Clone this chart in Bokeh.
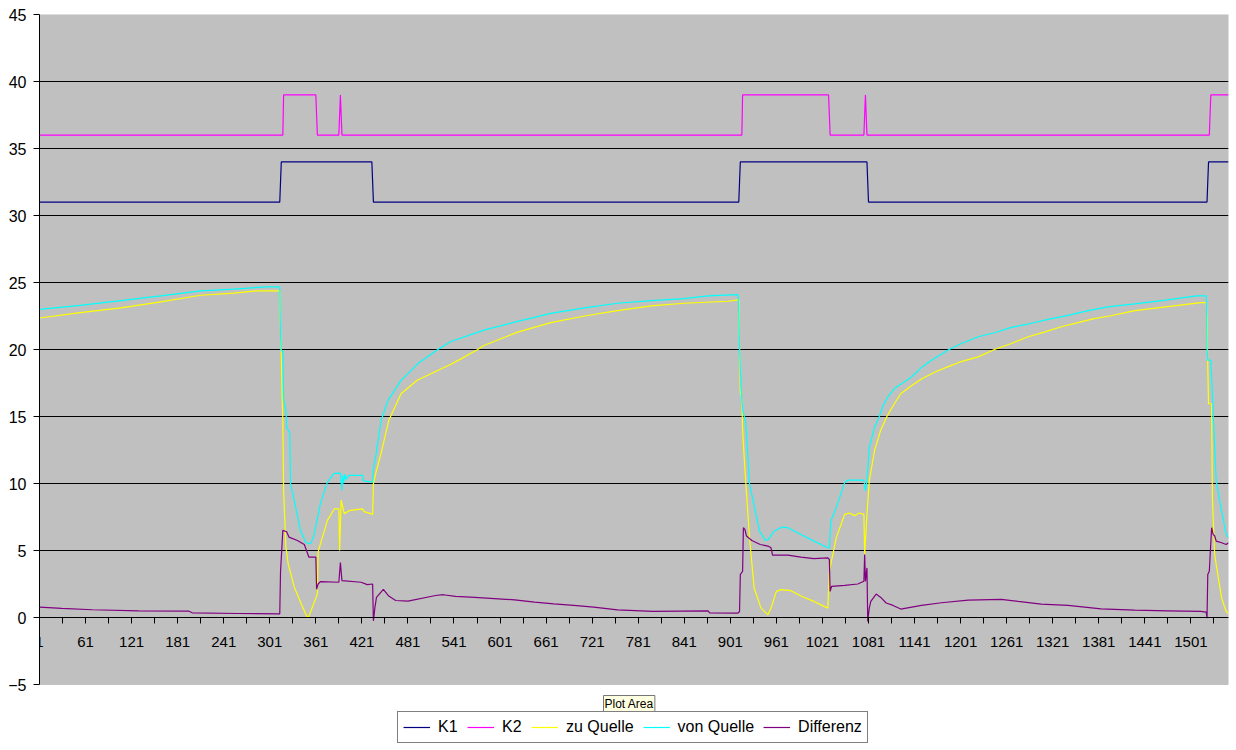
from bokeh.plotting import figure
from bokeh.models import Range1d, FixedTicker, Legend, LegendItem, Label, BoxAnnotation
from bokeh.embed import file_html
from bokeh.resources import INLINE

# ---- axis ticks ----
y_ticks = [-5, 0, 5, 10, 15, 20, 25, 30, 35, 40, 45]
grid_ticks = [0, 5, 10, 15, 20, 25, 30, 35, 40]
x_label_ticks = [1, 61, 121, 181, 241, 301, 361, 421, 481, 541, 601, 661, 721, 781, 841,
                 901, 961, 1021, 1081, 1141, 1201, 1261, 1321, 1381, 1441, 1501]
x_minor_ticks = [31, 91, 151, 211, 271, 331, 391, 451, 511, 571, 631, 691, 751, 811, 871,
                 931, 991, 1051, 1111, 1171, 1231, 1291, 1351, 1411, 1471, 1531]
n_categories = 1550
y_min, y_max = -5, 45

# ---- series (category index, value) ----
k1_x = [1, 314, 315, 316, 434, 435, 436, 912, 913, 914, 1079, 1080, 1081, 1522, 1523, 1524, 1550]
k1_y = [31, 31, 32.5, 34, 34, 32.5, 31, 31, 32.5, 34, 34, 32.5, 31, 31, 32.5, 34, 34]

k2_x = [1, 318, 319, 361, 362, 363, 391, 392, 393, 394, 395, 916, 917, 1029, 1030, 1031,
        1075, 1076, 1077, 1078, 1079, 1525, 1526, 1527, 1550]
k2_y = [36, 36, 39, 39, 37.5, 36, 36, 37.5, 39, 37.5, 36, 36, 39, 39, 37.5, 36,
        36, 37.5, 39, 37.5, 36, 36, 37.5, 39, 39]

zu_x = [1, 54, 107, 159, 211, 254, 285, 314, 315, 316, 317, 318, 319, 322, 325, 333, 343, 350,
        352, 363, 364, 376, 385, 391, 392, 394, 398, 406, 422, 424, 435, 436, 439, 446, 456,
        472, 493, 515, 537, 550, 572, 580, 624, 667, 711, 754, 798, 841, 898, 911,
        912, 913, 914, 916, 917, 919, 921, 926, 932, 941, 950, 954, 961, 967, 980, 993, 1010,
        1028, 1030, 1039, 1050, 1056, 1063, 1069, 1075, 1076, 1079, 1082, 1089, 1097, 1105,
        1113, 1123, 1137, 1150, 1167, 1184, 1202, 1224, 1245, 1267, 1289, 1310, 1332, 1354,
        1375, 1395, 1428, 1471, 1514, 1521, 1522, 1523, 1524, 1528, 1529, 1532, 1534, 1541,
        1547, 1550]
zu_y = [22.35, 22.75, 23.1, 23.55, 24.05, 24.2, 24.38, 24.38, 21.1, 19.5, 16.7, 14.75, 9.5,
        5.25, 4.0, 2.25, 0.88, 0.0, 0.1, 1.75, 4.9, 7.25, 8.1, 8.1, 5.0, 8.75, 7.75, 8.0, 8.1,
        7.9, 7.7, 10.0, 10.75, 12.25, 14.7, 16.7, 17.7, 18.3, 18.9, 19.3, 20.0, 20.3, 21.3,
        22.0, 22.5, 22.9, 23.25, 23.45, 23.6, 23.7,
        23.7, 20.2, 16.8, 16.3, 14.0, 12.0, 10.2, 5.95, 2.2, 0.7, 0.2, 0.7, 1.95, 2.08, 2.0,
        1.6, 1.2, 0.7, 3.45, 5.95, 7.7, 7.8, 7.6, 7.8, 7.7, 4.7, 7.7, 10.2, 12.5, 14.0, 15.0,
        15.8, 16.7, 17.3, 17.8, 18.3, 18.7, 19.1, 19.45, 20.0, 20.45, 20.95, 21.3, 21.7, 22.0,
        22.3, 22.5, 22.9, 23.2, 23.5, 23.5, 22.2, 18.7, 15.95, 15.95, 8.95, 4.7, 3.95, 1.45,
        0.45, 0.3]

von_x = [1, 54, 107, 159, 211, 254, 296, 314, 315, 316, 318, 319, 322, 323, 327, 328, 333,
         341, 348, 354, 358, 367, 376, 385, 393, 395, 396, 397, 399, 400, 404, 422, 423, 435,
         436, 439, 446, 455, 472, 494, 520, 537, 580, 624, 667, 711, 754, 798, 841, 872, 911,
         912, 913, 915, 917, 921, 926, 939, 947, 950, 958, 969, 976, 993, 1010, 1028, 1030,
         1032, 1039, 1050, 1054, 1075, 1077, 1079, 1082, 1089, 1095, 1100, 1106, 1115, 1128,
         1137, 1150, 1163, 1186, 1202, 1224, 1245, 1267, 1289, 1315, 1341, 1367, 1395, 1428,
         1471, 1508, 1521, 1522, 1523, 1527, 1530, 1534, 1541, 1547, 1550]
von_y = [23.0, 23.3, 23.65, 24.0, 24.38, 24.5, 24.68, 24.68, 21.0, 19.9, 19.9, 16.3, 15.5,
         14.2, 13.8, 10.0, 8.7, 6.5, 5.6, 5.5, 6.0, 8.5, 10.1, 10.75, 10.77, 9.5, 10.6, 10.0,
         10.7, 10.3, 10.6, 10.6, 10.2, 10.1, 11.1, 12.0, 14.7, 16.2, 17.7, 18.95, 20.0, 20.6,
         21.45, 22.1, 22.7, 23.1, 23.45, 23.65, 23.8, 24.0, 24.1,
         22.8, 20.1, 17.0, 15.5, 14.6, 10.0, 6.45, 5.75, 5.8, 6.45, 6.75, 6.7, 6.2, 5.7, 5.2,
         5.2, 7.2, 8.2, 10.08, 10.25, 10.25, 9.45, 10.2, 12.7, 14.2, 15.0, 15.8, 16.45, 17.1,
         17.6, 17.95, 18.65, 19.2, 20.0, 20.45, 20.95, 21.25, 21.65, 21.9, 22.25, 22.55, 22.9,
         23.2, 23.4, 23.7, 24.0, 24.0, 20.2, 19.2, 19.2, 15.2, 10.2, 7.95, 6.2, 5.95]

diff_x = [1, 30, 70, 130, 195, 200, 260, 314, 315, 318, 323, 326, 337, 346, 352, 361, 362,
          364, 367, 391, 393, 395, 420, 428, 435, 436, 438, 440, 449, 456, 465, 481, 517, 527,
          543, 568, 620, 646, 671, 697, 723, 754, 800, 872, 874, 911, 913, 914, 917, 918, 920,
          922, 929, 940, 950, 954, 956, 976, 993, 1010, 1028, 1030, 1031, 1033, 1050, 1067,
          1075, 1076, 1077, 1079, 1080, 1082, 1084, 1091, 1097, 1104, 1113, 1123, 1150, 1176,
          1211, 1254, 1276, 1306, 1341, 1384, 1428, 1471, 1514, 1521, 1522, 1523, 1525, 1528,
          1530, 1532, 1534, 1541, 1547, 1550]
diff_y = [0.77, 0.68, 0.58, 0.5, 0.48, 0.35, 0.3, 0.27, 3.4, 6.5, 6.4, 6.0, 5.75, 5.45, 4.5,
          4.5, 2.1, 2.5, 2.68, 2.63, 4.1, 2.75, 2.63, 2.45, 2.5, -0.25, 0.75, 1.5, 2.1, 1.6,
          1.27, 1.22, 1.64, 1.7, 1.57, 1.5, 1.32, 1.15, 1.02, 0.9, 0.77, 0.57, 0.45, 0.5, 0.35,
          0.33, 0.45, 3.2, 3.45, 6.7, 6.58, 6.08, 5.75, 5.45, 5.33, 5.2, 4.65, 4.65, 4.5, 4.4,
          4.45, 4.33, 1.95, 2.33, 2.4, 2.5, 2.7, 4.7, 2.7, 3.7, -0.3, 0.7, 1.2, 1.75, 1.5,
          1.08, 0.9, 0.63, 0.9, 1.1, 1.3, 1.35, 1.2, 1.0, 0.9, 0.65, 0.55, 0.5, 0.45, 0.4,
          -0.05, 3.2, 3.45, 6.7, 6.2, 6.08, 5.7, 5.58, 5.45, 5.58]

series_names = ["K1", "K2", "zu Quelle", "von Quelle", "Differenz"]
series_colors = ["#000080", "#FF00FF", "#FFFF00", "#00FFFF", "#800080"]
series_data = [(k1_x, k1_y), (k2_x, k2_y), (zu_x, zu_y), (von_x, von_y), (diff_x, diff_y)]

FONT = "Liberation Sans"

# layout (pixels)
fig_w, fig_h = 1229, 748
border_left, border_top = 39, 14
plot_area_px = 670            # height of the grey plot area
frame_px = fig_h - border_top  # frame reaches the bottom; legend lives under the grey area
y_lo = y_max - (y_max - y_min) * frame_px / plot_area_px

p = figure(width=fig_w, height=fig_h,
           x_range=Range1d(1, n_categories), y_range=Range1d(y_lo, y_max),
           output_backend="svg", toolbar_location=None,
           min_border_left=border_left, min_border_right=1, min_border_top=border_top,
           min_border_bottom=0,
           background_fill_color="white", border_fill_color="white",
           outline_line_color=None)

# grey plot area
p.add_layout(BoxAnnotation(left=1, right=n_categories, bottom=y_min, top=y_max,
                           fill_color="#C0C0C0", fill_alpha=1.0,
                           line_color="#808080", line_width=1, level="image"))

# y axis
p.yaxis.ticker = FixedTicker(ticks=y_ticks)
p.yaxis.bounds = (y_min, y_max)
p.yaxis.axis_line_color = "black"
p.yaxis.major_tick_line_color = "black"
p.yaxis.major_tick_out = 6
p.yaxis.major_tick_in = 0
p.yaxis.minor_tick_line_color = None
p.yaxis.major_label_standoff = 7
p.yaxis.major_label_text_font = FONT
p.yaxis.major_label_text_font_size = "16px"
p.yaxis.major_label_text_color = "black"

# x axis crossing at y = 0
p.xaxis.fixed_location = 0
p.xaxis.ticker = FixedTicker(ticks=x_label_ticks, minor_ticks=x_minor_ticks)
p.xaxis.axis_line_color = "black"
p.xaxis.major_tick_line_color = "black"
p.xaxis.minor_tick_line_color = "black"
p.xaxis.major_tick_out = 6
p.xaxis.major_tick_in = 0
p.xaxis.minor_tick_out = 6
p.xaxis.minor_tick_in = 0
p.xaxis.major_label_standoff = 13
p.xaxis.major_label_text_font = FONT
p.xaxis.major_label_text_font_size = "15px"
p.xaxis.major_label_text_color = "black"

p.xgrid.visible = False
p.ygrid.ticker = FixedTicker(ticks=grid_ticks)
p.ygrid.grid_line_color = "black"
p.ygrid.grid_line_width = 1

items = []
for name, color, (xs, ys) in zip(series_names, series_colors, series_data):
    r = p.line(xs, ys, line_color=color, line_width=1.2)
    items.append(LegendItem(label=name, renderers=[r]))

legend = Legend(items=items, orientation="horizontal", location=(358, 5),
                label_text_font=FONT, label_text_font_size="16px",
                label_text_color="black",
                glyph_width=27, glyph_height=16, label_standoff=8, spacing=9,
                padding=5, margin=0, label_height=20,
                border_line_color="black", border_line_width=1,
                background_fill_color="white", background_fill_alpha=1.0)
p.add_layout(legend)

tip = Label(x=564, y=37, x_units="screen", y_units="screen", text="Plot Area",
            text_font=FONT, text_font_size="12px", text_color="black",
            text_baseline="bottom", text_align="left",
            background_fill_color="#FFFFE1", border_line_color="#767676", padding=1)
p.add_layout(tip)

open("out.html", "w").write(file_html(p, INLINE))
